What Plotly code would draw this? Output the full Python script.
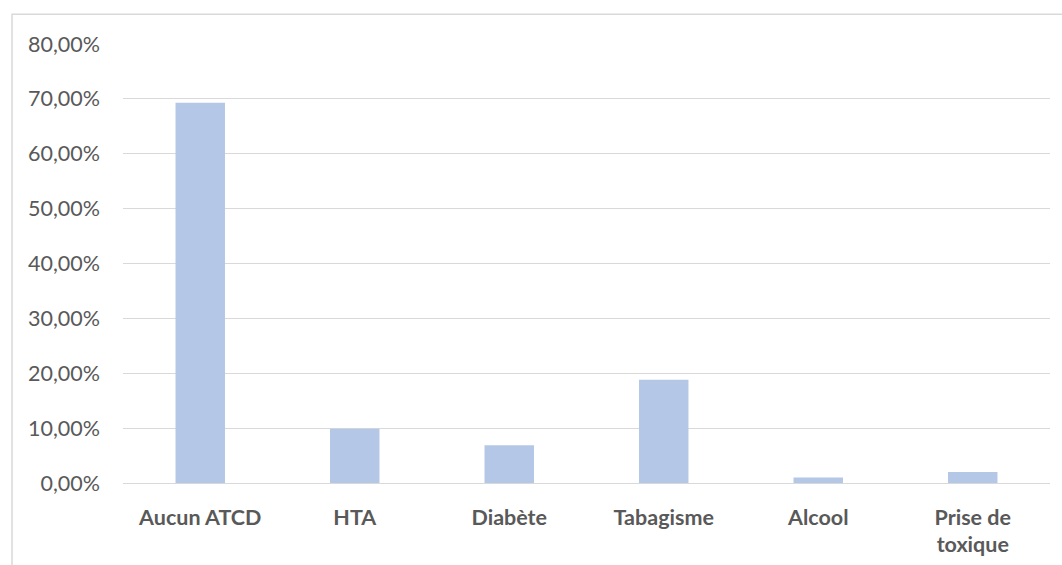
import plotly.graph_objects as go

# Antécédents des patients (part de l'effectif)
categories = ["Aucun ATCD", "HTA", "Diabète", "Tabagisme", "Alcool", "Prise de<br>toxique"]
proportions = [0.693, 0.099, 0.069, 0.188, 0.010, 0.020]
tick_values = [0, 0.1, 0.2, 0.3, 0.4, 0.5, 0.6, 0.7, 0.8]

BAR_COLOR = "#b4c7e7"
GRID_COLOR = "#d9d9d9"
TEXT_COLOR = "#595959"
FONT = "Lato"

fig = go.Figure(
    go.Bar(
        x=categories,
        y=proportions,
        marker=dict(color=BAR_COLOR, line=dict(width=0)),
        hovertemplate="%{x}: %{y:.2%}<extra></extra>",
    )
)

fig.update_layout(
    width=1062,
    height=565,
    margin=dict(l=123, r=12, t=44, b=82),
    paper_bgcolor="white",
    plot_bgcolor="white",
    separators=", ",
    bargap=0.68,
    showlegend=False,
    font=dict(family=FONT, color=TEXT_COLOR, size=21),
    shapes=[
        # cadre du graphique
        dict(
            type="rect", xref="paper", yref="paper",
            x0=-0.1197, x1=1.2, y0=-0.5, y1=1.068,
            line=dict(color=GRID_COLOR, width=1.5),
            fillcolor="rgba(0,0,0,0)", layer="below",
        )
    ],
)

fig.update_xaxes(
    showgrid=False,
    showline=False,
    ticks="",
    tickfont=dict(family=FONT, size=21.5, color=TEXT_COLOR, weight="bold"),
    ticklabelstandoff=19,
    automargin=False,
    fixedrange=True,
)

fig.update_yaxes(
    range=[0, 0.8],
    tickvals=tick_values,
    tickformat=".2%",
    showgrid=True,
    gridcolor=GRID_COLOR,
    gridwidth=1.3,
    zeroline=True,
    zerolinecolor=GRID_COLOR,
    zerolinewidth=1.3,
    showline=False,
    ticks="",
    tickfont=dict(family=FONT, size=21.5, color=TEXT_COLOR),
    ticklabelstandoff=22,
    automargin=False,
    fixedrange=True,
)

fig.write_html("out.html")
